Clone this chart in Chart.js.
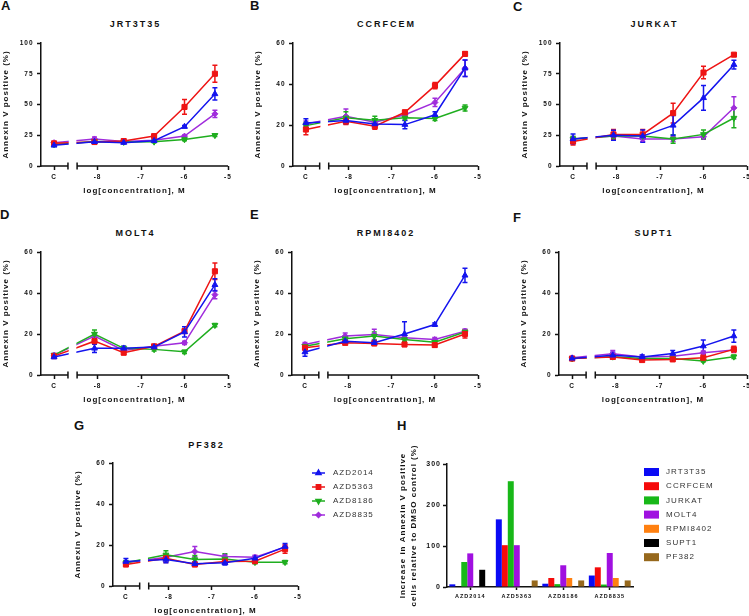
<!DOCTYPE html>
<html><head><meta charset="utf-8">
<script src="https://cdn.jsdelivr.net/npm/chart.js@4.4.1/dist/chart.umd.min.js"></script>
<style>
html,body{margin:0;padding:0;background:#fff;}
body{width:749px;height:616px;overflow:hidden;position:relative;font-family:'Liberation Sans',Arial,sans-serif;color:#111;}
canvas{position:absolute;}
.lt{position:absolute;font-weight:bold;font-size:13px;line-height:13px;}
.pt{position:absolute;font-weight:bold;font-size:9px;line-height:9px;letter-spacing:2px;text-align:center;padding-left:2px;box-sizing:border-box;}
</style></head><body>
<div class="lt" style="left:1px;top:-1px">A</div>
<div class="lt" style="left:250px;top:-1px">B</div>
<div class="lt" style="left:513px;top:0px">C</div>
<div class="lt" style="left:0px;top:208px">D</div>
<div class="lt" style="left:250px;top:208px">E</div>
<div class="lt" style="left:513px;top:211px">F</div>
<div class="lt" style="left:74px;top:419px">G</div>
<div class="lt" style="left:397px;top:419px">H</div>
<script>
// ---------- data ----------
const concLog = [-9, -8.07, -7.398, -6.699, -6, -5.301]; // first = control "C"
const xTickValues = [-9, -8, -7, -6, -5];
const xTickLabels = ['C', '-8', '-7', '-6', '-5'];
const breakRange = [-8.68, -8.47];
const drugs = ['AZD2014', 'AZD5363', 'AZD8186', 'AZD8835'];

// JRT3T35
const jrt3t35_AZD2014 = [16.8, 19.7, 19, 20.5, 32, 58.6];
const jrt3t35_AZD2014_sem = [1, 1, 0.8, 1, 1, 5];
const jrt3t35_AZD5363 = [18.4, 19.5, 20.3, 24.3, 48, 75];
const jrt3t35_AZD5363_sem = [1, 1, 1, 1, 6, 7];
const jrt3t35_AZD8186 = [17.5, 20, 19.5, 19.7, 21.6, 25];
const jrt3t35_AZD8186_sem = [0.8, 0.8, 0.8, 0.8, 1, 1];
const jrt3t35_AZD8835 = [19, 22, 20, 21, 24.3, 42.4];
const jrt3t35_AZD8835_sem = [1, 1.5, 1, 1, 1, 3];
// CCRFCEM
const ccrfcem_AZD2014 = [21, 22.2, 20.5, 20.2, 25, 47.7];
const ccrfcem_AZD2014_sem = [2, 1.5, 1.5, 2, 1.5, 4];
const ccrfcem_AZD5363 = [17.8, 21.8, 19.4, 26.2, 39.2, 54.7];
const ccrfcem_AZD5363_sem = [2.5, 1.5, 1.5, 1, 1.5, 1];
const ccrfcem_AZD8186 = [19.7, 23.5, 22.3, 23.5, 23.2, 28.3];
const ccrfcem_AZD8186_sem = [1.5, 3, 2, 1, 1, 1.5];
const ccrfcem_AZD8835 = [20.5, 24.3, 21.4, 25, 31, 47.7];
const ccrfcem_AZD8835_sem = [1.5, 3.5, 1.5, 1, 2, 4];
// JURKAT
const jurkat_AZD2014 = [22, 25, 24.3, 33, 55.4, 82.4];
const jurkat_AZD2014_sem = [4, 4, 5, 8, 10, 3.5];
const jurkat_AZD5363 = [20, 25.7, 25.7, 43, 76, 90.5];
const jurkat_AZD5363_sem = [3, 4, 4, 8, 5, 1];
const jurkat_AZD8186 = [22, 24.3, 24.3, 22, 25.7, 39];
const jurkat_AZD8186_sem = [2, 2, 2, 3.5, 3.5, 8];
const jurkat_AZD8835 = [22, 24.3, 22, 22, 23.8, 47.3];
const jurkat_AZD8835_sem = [2, 2, 2, 2, 2, 9];
// MOLT4
const molt4_AZD2014 = [8.8, 13, 13, 13.6, 21, 44];
const molt4_AZD2014_sem = [0.8, 2, 1, 1, 2.5, 3];
const molt4_AZD5363 = [9.2, 16.5, 10.9, 14, 21.4, 50.6];
const molt4_AZD5363_sem = [1, 1.5, 1, 0.8, 1, 4];
const molt4_AZD8186 = [9.7, 20, 13, 12.5, 11.3, 24.3];
const molt4_AZD8186_sem = [0.8, 2, 1, 0.8, 0.8, 0.8];
const molt4_AZD8835 = [9.7, 19, 12, 14, 15.7, 39.2];
const molt4_AZD8835_sem = [0.8, 1.5, 1, 0.8, 0.8, 2];
// RPMI8402
const rpmi8402_AZD2014 = [11.2, 16.5, 15.7, 20, 24.6, 48.6];
const rpmi8402_AZD2014_sem = [2, 1, 1, 6, 0.8, 3.5];
const rpmi8402_AZD5363 = [13.3, 15.7, 15.4, 14.9, 14.6, 20];
const rpmi8402_AZD5363_sem = [1, 1, 1, 1, 1, 2];
const rpmi8402_AZD8186 = [14, 17.7, 19, 17.3, 16, 21];
const rpmi8402_AZD8186_sem = [1, 1, 2, 1, 1, 1];
const rpmi8402_AZD8835 = [14.9, 19, 19.8, 18.2, 17.3, 21.4];
const rpmi8402_AZD8835_sem = [1, 1.5, 2.5, 1, 1, 1];
// SUPT1
const supt1_AZD2014 = [8.1, 9.6, 8.8, 10.5, 14.1, 19];
const supt1_AZD2014_sem = [0.8, 1.5, 1, 1.5, 3, 3];
const supt1_AZD5363 = [8, 8.8, 7.3, 7.6, 8.4, 12.5];
const supt1_AZD5363_sem = [0.8, 1, 0.8, 0.8, 1.5, 1.5];
const supt1_AZD8186 = [8, 8.9, 8.1, 8.1, 6.8, 8.9];
const supt1_AZD8186_sem = [0.5, 0.5, 0.5, 0.5, 0.5, 0.8];
const supt1_AZD8835 = [8.4, 10.4, 8.8, 9.2, 10.9, 12.2];
const supt1_AZD8835_sem = [0.8, 1.5, 0.8, 0.8, 0.8, 0.8];
// PF382
const pf382_AZD2014 = [11.9, 12.9, 10.8, 11.3, 13.5, 19.2];
const pf382_AZD2014_sem = [1.5, 1.5, 1, 1, 1, 1.5];
const pf382_AZD5363 = [10.5, 13.5, 10.5, 11.9, 12.1, 18];
const pf382_AZD5363_sem = [1, 2, 1, 1, 1, 2];
const pf382_AZD8186 = [11.3, 15.2, 12.9, 13.2, 11.6, 11.6];
const pf382_AZD8186_sem = [1, 2, 2, 2.5, 0.8, 0.8];
const pf382_AZD8835 = [11.3, 14, 16.8, 14.4, 14, 18.9];
const pf382_AZD8835_sem = [1, 1, 2.5, 1, 1, 1];

// Panel H: increase relative to DMSO control (%)
const drugCategories = ['AZD2014', 'AZD5363', 'AZD8186', 'AZD8835'];
const cellLines = ['JRT3T35', 'CCRFCEM', 'JURKAT', 'MOLT4', 'RPMI8402', 'SUPT1', 'PF382'];
const inc_JRT3T35 = [6.5, 165, 8, 28];
const inc_CCRFCEM = [0, 102, 22, 48];
const inc_JURKAT = [61, 258, 7, 6];
const inc_MOLT4 = [82, 102, 53, 83];
const inc_RPMI8402 = [0, 0, 22, 22];
const inc_SUPT1 = [42, 0, 0, 0];
const inc_PF382 = [0, 16, 16, 16];

// ---------- styles / layout ----------
Chart.defaults.font.family = "'Liberation Sans', Arial, sans-serif";
Chart.defaults.color = '#111';
const drugStyle = [
  {color: '#1414ee', pointStyle: 'triangle', rotation: 0, radius: 3.4},
  {color: '#ee1414', pointStyle: 'rect', rotation: 0, radius: 3.6},
  {color: '#1fae1f', pointStyle: 'triangle', rotation: 180, radius: 3.4},
  {color: '#a02cdc', pointStyle: 'rectRot', rotation: 0, radius: 3.0}
];
const barColors = ['#0a0af5', '#f50a0a', '#18b818', '#a010e0', '#ff8010', '#000000', '#96681c'];

const spacingPlugin = {id: 'spacing', beforeDraw(c) { c.ctx.letterSpacing = '1px'; }};
const errorBarPlugin = {
  id: 'errbars',
  beforeDatasetsDraw(chart) {
    const ctx = chart.ctx, xs = chart.scales.x, ys = chart.scales.y;
    for (let k = chart.data.datasets.length - 1; k >= 0; k--) {
      const ds = chart.data.datasets[k];
      if (!ds.errors) continue;
      ctx.save();
      ctx.strokeStyle = ds.borderColor; ctx.lineWidth = 1.5;
      ds.data.forEach((p, j) => {
        const e = ds.errors[j];
        const px = xs.getPixelForValue(p.x);
        const y1 = ys.getPixelForValue(p.y + e), y2 = ys.getPixelForValue(p.y - e);
        ctx.beginPath();
        ctx.moveTo(px, y1); ctx.lineTo(px, y2);
        ctx.moveTo(px - 2.5, y1); ctx.lineTo(px + 2.5, y1);
        ctx.moveTo(px - 2.5, y2); ctx.lineTo(px + 2.5, y2);
        ctx.stroke();
      });
      ctx.restore();
    }
  }
};
const breakAxisPlugin = {
  id: 'breakAxis',
  afterDatasetsDraw(chart) {
    const ctx = chart.ctx, a = chart.chartArea, x = chart.scales.x;
    const g0 = x.getPixelForValue(breakRange[0]), g1 = x.getPixelForValue(breakRange[1]);
    ctx.save();
    ctx.fillStyle = '#fff';
    ctx.fillRect(g0 + 0.75, a.top - 8, g1 - g0 - 1.5, a.bottom - a.top + 7);
    ctx.strokeStyle = '#111'; ctx.lineWidth = 1.5;
    ctx.beginPath();
    ctx.moveTo(a.left - 0.75, a.bottom); ctx.lineTo(g0, a.bottom);
    ctx.moveTo(g1, a.bottom); ctx.lineTo(a.right, a.bottom);
    ctx.moveTo(g0, a.bottom - 3.5); ctx.lineTo(g0, a.bottom + 3.5);
    ctx.moveTo(g1, a.bottom - 3.5); ctx.lineTo(g1, a.bottom + 3.5);
    ctx.stroke();
    ctx.restore();
  }
};
const lineLegendPlugin = {
  id: 'lineLegend',
  afterDraw(chart, args, o) {
    if (!o || !o.show) return;
    const ctx = chart.ctx;
    ctx.save();
    ctx.letterSpacing = '1px';
    ctx.font = "8px 'Liberation Sans', Arial, sans-serif";
    ctx.textBaseline = 'middle'; ctx.textAlign = 'left';
    chart.data.datasets.forEach((ds, i) => {
      const y = o.y + i * o.dy;
      ctx.strokeStyle = ds.borderColor; ctx.fillStyle = ds.borderColor; ctx.lineWidth = 1.5;
      ctx.beginPath(); ctx.moveTo(o.x, y); ctx.lineTo(o.x + 13, y); ctx.stroke();
      Chart.helpers.drawPoint(ctx, {pointStyle: ds.pointStyle, rotation: ds.pointRotation, radius: ds.pointRadius * 0.85, borderWidth: 1}, o.x + 6.5, y);
      ctx.fillStyle = '#333';
      ctx.fillText(ds.label, o.x + 21, y);
    });
    ctx.restore();
  }
};
const barLegendPlugin = {
  id: 'barLegend',
  afterDraw(chart, args, o) {
    if (!o || !o.show) return;
    const ctx = chart.ctx;
    ctx.save();
    ctx.letterSpacing = '1.1px';
    ctx.font = "8px 'Liberation Sans', Arial, sans-serif";
    ctx.textBaseline = 'middle'; ctx.textAlign = 'left';
    chart.data.datasets.forEach((ds, i) => {
      const y = o.y + i * o.dy;
      ctx.fillStyle = ds.backgroundColor;
      ctx.fillRect(o.x, y - 4, 15, 8);
      ctx.fillStyle = '#333';
      ctx.fillText(ds.label, o.x + 22, y);
    });
    ctx.restore();
  }
};

function addTitle(text, left, width, top) {
  const d = document.createElement('div');
  d.className = 'pt';
  d.style.left = left + 'px'; d.style.width = width + 'px'; d.style.top = top + 'px';
  d.textContent = text;
  document.body.appendChild(d);
}
function makeCanvas(left, top, w, h) {
  const c = document.createElement('canvas');
  c.width = w; c.height = h;
  c.style.left = left + 'px'; c.style.top = top + 'px';
  c.style.width = w + 'px'; c.style.height = h + 'px';
  document.body.appendChild(c);
  return c;
}

const panels = [
  {cell: 'JRT3T35', vals: [jrt3t35_AZD2014, jrt3t35_AZD5363, jrt3t35_AZD8186, jrt3t35_AZD8835], sems: [jrt3t35_AZD2014_sem, jrt3t35_AZD5363_sem, jrt3t35_AZD8186_sem, jrt3t35_AZD8835_sem], yMax: 100, yStep: 25, left: 0, top: 0, w: 250, pr: 22, titleTop: 20},
  {cell: 'CCRFCEM', vals: [ccrfcem_AZD2014, ccrfcem_AZD5363, ccrfcem_AZD8186, ccrfcem_AZD8835], sems: [ccrfcem_AZD2014_sem, ccrfcem_AZD5363_sem, ccrfcem_AZD8186_sem, ccrfcem_AZD8835_sem], yMax: 60, yStep: 20, left: 252, top: 0, w: 250, pr: 24, titleTop: 20},
  {cell: 'JURKAT', vals: [jurkat_AZD2014, jurkat_AZD5363, jurkat_AZD8186, jurkat_AZD8835], sems: [jurkat_AZD2014_sem, jurkat_AZD5363_sem, jurkat_AZD8186_sem, jurkat_AZD8835_sem], yMax: 100, yStep: 25, left: 519, top: 0, w: 250, pr: 22, titleTop: 20},
  {cell: 'MOLT4', vals: [molt4_AZD2014, molt4_AZD5363, molt4_AZD8186, molt4_AZD8835], sems: [molt4_AZD2014_sem, molt4_AZD5363_sem, molt4_AZD8186_sem, molt4_AZD8835_sem], yMax: 60, yStep: 20, left: 0, top: 209, w: 250, pr: 22, titleTop: 229},
  {cell: 'RPMI8402', vals: [rpmi8402_AZD2014, rpmi8402_AZD5363, rpmi8402_AZD8186, rpmi8402_AZD8835], sems: [rpmi8402_AZD2014_sem, rpmi8402_AZD5363_sem, rpmi8402_AZD8186_sem, rpmi8402_AZD8835_sem], yMax: 60, yStep: 20, left: 251, top: 209, w: 250, pr: 23, titleTop: 229},
  {cell: 'SUPT1', vals: [supt1_AZD2014, supt1_AZD5363, supt1_AZD8186, supt1_AZD8835], sems: [supt1_AZD2014_sem, supt1_AZD5363_sem, supt1_AZD8186_sem, supt1_AZD8835_sem], yMax: 60, yStep: 20, left: 518, top: 209, w: 250, pr: 21, titleTop: 229},
  {cell: 'PF382', vals: [pf382_AZD2014, pf382_AZD5363, pf382_AZD8186, pf382_AZD8835], sems: [pf382_AZD2014_sem, pf382_AZD5363_sem, pf382_AZD8186_sem, pf382_AZD8835_sem], yMax: 60, yStep: 20, left: 72, top: 420, w: 320, pr: 94, titleTop: 441, legend: true}
];

const tickFont = {size: 6.5, weight: 'bold'};
const axisTitleFont = {size: 8, weight: 'bold'};

panels.forEach(p => {
  const H = 200, yW = 41, xH = 34;
  addTitle(p.cell, p.left + yW, p.w - p.pr - yW, p.titleTop);
  const c = makeCanvas(p.left, p.top, p.w, H);
  const datasets = drugs.map((d, k) => ({
    label: d,
    data: concLog.map((x, i) => ({x: x, y: p.vals[k][i]})),
    errors: p.sems[k],
    borderColor: drugStyle[k].color,
    backgroundColor: drugStyle[k].color,
    pointBackgroundColor: drugStyle[k].color,
    pointBorderColor: drugStyle[k].color,
    pointStyle: drugStyle[k].pointStyle,
    pointRotation: drugStyle[k].rotation,
    pointRadius: drugStyle[k].radius,
    pointBorderWidth: 1,
    borderWidth: 1.5,
    tension: 0,
    fill: false
  }));
  new Chart(c, {
    type: 'line',
    data: {datasets},
    options: {
      responsive: false, animation: false, devicePixelRatio: 1,
      layout: {padding: {left: 0, top: 43, right: p.pr, bottom: 0}},
      plugins: {legend: {display: false}, tooltip: {enabled: false},
        lineLegend: {show: !!p.legend, x: 240, y: 53, dy: 14}},
      scales: {
        x: {
          type: 'linear', min: -9.3, max: -5,
          afterBuildTicks: s => { s.ticks = xTickValues.map(v => ({value: v})); },
          afterFit: s => { s.height = xH; s.paddingLeft = 0; s.paddingRight = 0; },
          ticks: {autoSkip: false, maxRotation: 0, minRotation: 0, padding: 3.5, font: tickFont, color: '#111',
            callback: (v, i) => xTickLabels[i]},
          grid: {drawOnChartArea: false, drawTicks: true, tickLength: 4, tickColor: '#111', tickWidth: 1.5},
          border: {display: false},
          title: {display: true, text: 'log[concentration], M', font: axisTitleFont, color: '#111', padding: {top: 0, bottom: 4.2}}
        },
        y: {
          min: 0, max: p.yMax,
          afterFit: s => { s.width = yW; s.paddingTop = 0; s.paddingBottom = 0; },
          ticks: {stepSize: p.yStep, padding: 3.5, font: tickFont, color: '#111'},
          grid: {drawOnChartArea: false, drawTicks: true, tickLength: 4, tickColor: '#111', tickWidth: 1.5},
          border: {display: true, color: '#111', width: 1.5},
          title: {display: true, text: 'Annexin V positive (%)', font: axisTitleFont, color: '#111', padding: {top: 1.2, bottom: 0}}
        }
      }
    },
    plugins: [spacingPlugin, errorBarPlugin, breakAxisPlugin, lineLegendPlugin]
  });
});

// Panel H
(function () {
  const c = makeCanvas(395, 420, 354, 196);
  const series = [inc_JRT3T35, inc_CCRFCEM, inc_JURKAT, inc_MOLT4, inc_RPMI8402, inc_SUPT1, inc_PF382];
  new Chart(c, {
    type: 'bar',
    data: {
      labels: drugCategories,
      datasets: cellLines.map((name, i) => ({
        label: name, data: series[i], backgroundColor: barColors[i], borderWidth: 0,
        categoryPercentage: 0.9, barPercentage: 1.0
      }))
    },
    options: {
      responsive: false, animation: false, devicePixelRatio: 1,
      layout: {padding: {left: 0, top: 44, right: 116, bottom: 0}},
      plugins: {legend: {display: false}, tooltip: {enabled: false},
        barLegend: {show: true, x: 249, y: 52, dy: 14.2}},
      scales: {
        x: {
          afterFit: s => { s.height = 29; s.paddingLeft = 0; s.paddingRight = 0; },
          ticks: {autoSkip: false, maxRotation: 0, minRotation: 0, padding: 3.4, font: {size: 5.5, weight: 'bold'}, color: '#111'},
          grid: {display: true, offset: false, drawOnChartArea: false, drawTicks: true, tickLength: 3, tickColor: '#111', tickWidth: 1.5},
          border: {display: true, color: '#111', width: 1.5}
        },
        y: {
          min: 0, max: 300,
          afterFit: s => { s.width = 52; s.paddingTop = 0; s.paddingBottom = 0; },
          ticks: {stepSize: 100, padding: 2, font: {size: 7, weight: 'bold'}, color: '#111'},
          grid: {drawOnChartArea: false, drawTicks: true, tickLength: 4, tickColor: '#111', tickWidth: 1.5},
          border: {display: true, color: '#111', width: 1.5},
          title: {display: true, text: ['Increase in Annexin V positive', 'cells relative to DMSO control (%)'],
            font: {size: 8, weight: 'bold', lineHeight: 1.375}, color: '#111', padding: {top: 2.5, bottom: 0}}
        }
      }
    },
    plugins: [spacingPlugin, barLegendPlugin]
  });
})();
</script>
</body></html>
